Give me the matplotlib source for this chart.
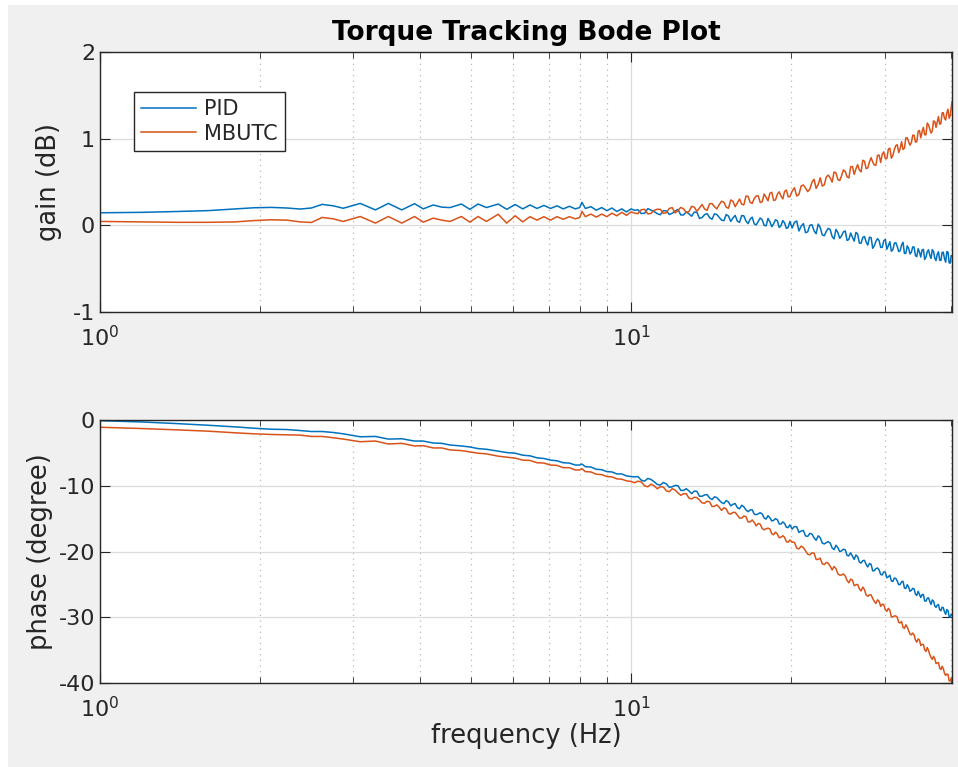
import matplotlib
matplotlib.use('Agg')
import matplotlib.pyplot as plt
import numpy as np
from matplotlib.ticker import LogLocator, NullFormatter
from matplotlib.patches import Rectangle

# ---------------- data ----------------
freq_low = [1.0, 1.2, 1.4, 1.6, 1.8, 1.95, 2.1, 2.25, 2.38, 2.5,
            2.62, 2.75, 2.87, 3.09, 3.30, 3.49, 3.70, 3.91, 4.06, 4.24,
            4.40, 4.56, 4.79, 4.97, 5.15, 5.34, 5.62, 5.83, 6.05, 6.25,
            6.45, 6.65, 6.85, 7.05, 7.25, 7.45, 7.65, 7.85, 8.0, 8.08,
            8.2, 8.4, 8.6, 8.8, 9.0, 9.2, 9.4, 9.6, 9.8, 10.0]
freq_high = [10.3, 10.6, 10.9, 11.2, 11.5, 11.8, 12.1, 12.4, 12.7, 13.0,
             13.3, 13.6, 13.9, 14.2, 14.5, 14.8, 15.1, 15.4, 15.7, 16.0,
             16.3, 16.6, 16.9, 17.2, 17.5, 17.8, 18.1, 18.4, 18.7, 19.0,
             19.3, 19.6, 19.9,
             20.3, 20.7, 21.1, 21.5, 21.9, 22.3, 22.7, 23.1, 23.5, 23.9,
             24.3, 24.7, 25.1, 25.5, 25.9, 26.3, 26.7, 27.1, 27.5, 27.9,
             28.3, 28.7, 29.1, 29.5, 29.9, 30.3, 30.7, 31.1, 31.5, 31.9,
             32.3, 32.7, 33.1, 33.5, 33.9, 34.3, 34.7, 35.1, 35.5, 35.9,
             36.3, 36.7, 37.1, 37.5, 37.9, 38.3, 38.7, 39.1, 39.5, 39.9,
             40.2]
freq_mid = [10.15, 10.45, 10.75, 11.05, 11.35, 11.65, 11.95, 12.25, 12.55, 12.85,
            13.15, 13.45, 13.75, 14.05, 14.35, 14.65, 14.95, 15.25, 15.55, 15.85,
            16.15, 16.45, 16.75, 17.05, 17.35, 17.65, 17.95, 18.25, 18.55, 18.85,
            19.15, 19.45, 19.75,
            20.1, 20.5, 20.9, 21.3, 21.7, 22.1, 22.5, 22.9, 23.3, 23.7,
            24.1, 24.5, 24.9, 25.3, 25.7, 26.1, 26.5, 26.9, 27.3, 27.7,
            28.1, 28.5, 28.9, 29.3, 29.7, 30.1, 30.5, 30.9, 31.3, 31.7,
            32.1, 32.5, 32.9, 33.3, 33.7, 34.1, 34.5, 34.9, 35.3, 35.7,
            36.1, 36.5, 36.9, 37.3, 37.7, 38.1, 38.5, 38.9, 39.3, 39.7,
            40.05]

gain_pid_low = [0.145, 0.15, 0.16, 0.17, 0.19, 0.203, 0.207, 0.2, 0.188, 0.2,
                0.242, 0.225, 0.197, 0.253, 0.178, 0.253, 0.178, 0.25, 0.19, 0.235,
                0.21, 0.205, 0.246, 0.185, 0.246, 0.205, 0.246, 0.185, 0.24, 0.19,
                0.235, 0.195, 0.23, 0.195, 0.225, 0.19, 0.22, 0.19, 0.205, 0.265,
                0.195, 0.215, 0.175, 0.205, 0.17, 0.2, 0.16, 0.19, 0.155, 0.19]
gain_pid_high = [0.18, 0.14, 0.175, 0.135, 0.17, 0.125, 0.165, 0.12, 0.155, 0.105,
                 0.15, 0.09, 0.135, 0.07, 0.125, 0.06, 0.125, 0.045, 0.115, 0.035,
                 0.11, 0.02, 0.095, 0.005, 0.085, 0.0, 0.08, -0.015, 0.065, -0.025,
                 0.055, -0.035, 0.045,
                 0.035, -0.065, 0.02, -0.075, 0.007, -0.097, -0.025, -0.12, -0.035, -0.128,
                 -0.047, -0.15, -0.075, -0.174, -0.088, -0.182, -0.10, -0.205, -0.129, -0.228,
                 -0.141, -0.235, -0.153, -0.255, -0.178, -0.276, -0.189, -0.282, -0.20, -0.303,
                 -0.226, -0.324, -0.237, -0.33, -0.248, -0.349, -0.27, -0.366, -0.277, -0.367,
                 -0.282, -0.382, -0.302, -0.406, -0.305, -0.405, -0.31, -0.425, -0.31, -0.435,
                 -0.35]
gain_pid_mid = [0.173, 0.136, 0.193, 0.158, 0.122, 0.167, 0.14, 0.184, 0.12, 0.133,
                0.154, 0.08, 0.124, 0.09, 0.133, 0.092, 0.054, 0.107, 0.086, 0.047,
                0.113, 0.05, 0.071, 0.017, 0.045, 0.064, -0.006, 0.041, 0.019, 0.052,
                -0.004, 0.028, -0.025,
                -0.03, 0.05, -0.01, -0.085, 0.001, -0.063, 0.014, -0.11, -0.07, -0.049,
                -0.157, -0.081, -0.12, -0.065, -0.163, -0.137, -0.081, -0.205, -0.139, -0.193,
                -0.137, -0.265, -0.184, -0.176, -0.254, -0.162, -0.235, -0.298, -0.206, -0.244,
                -0.292, -0.195, -0.323, -0.266, -0.309, -0.251, -0.362, -0.308, -0.284, -0.394,
                -0.305, -0.345, -0.28, -0.379, -0.333, -0.403, -0.313, -0.383, -0.303, -0.433,
                -0.348]

gain_mbutc_low = [0.045, 0.04, 0.035, 0.035, 0.04, 0.055, 0.064, 0.06, 0.04, 0.033,
                  0.091, 0.075, 0.045, 0.102, 0.026, 0.102, 0.026, 0.102, 0.037, 0.083,
                  0.06, 0.045, 0.102, 0.037, 0.102, 0.045, 0.128, 0.026, 0.11, 0.04,
                  0.1, 0.06, 0.1, 0.06, 0.1, 0.07, 0.1, 0.075, 0.09, 0.16,
                  0.1, 0.13, 0.095, 0.13, 0.1, 0.14, 0.11, 0.15, 0.115, 0.155]
gain_mbutc_high = [0.135, 0.185, 0.138, 0.186, 0.138, 0.195, 0.143, 0.207, 0.148, 0.22,
                   0.162, 0.24, 0.173, 0.252, 0.19, 0.278, 0.21, 0.293, 0.215, 0.303,
                   0.236, 0.335, 0.253, 0.34, 0.263, 0.361, 0.283, 0.381, 0.294, 0.387,
                   0.305, 0.408, 0.33,
                   0.434, 0.357, 0.465, 0.389, 0.497, 0.426, 0.549, 0.467, 0.58, 0.498,
                   0.607, 0.516, 0.64, 0.56, 0.675, 0.588, 0.70, 0.617, 0.74, 0.663,
                   0.781, 0.695, 0.808, 0.725, 0.848, 0.77, 0.89, 0.805, 0.92, 0.84,
                   0.965, 0.89, 1.01, 0.925, 1.04, 0.96, 1.085, 1.01, 1.13, 1.045,
                   1.16, 1.065, 1.205, 1.13, 1.255, 1.175, 1.30, 1.215, 1.34, 1.27,
                   1.43]
gain_mbutc_mid = [0.141, 0.18, 0.132, 0.173, 0.185, 0.147, 0.204, 0.17, 0.19, 0.159,
                  0.209, 0.201, 0.189, 0.248, 0.216, 0.239, 0.267, 0.197, 0.277, 0.26,
                  0.244, 0.337, 0.265, 0.309, 0.34, 0.272, 0.324, 0.371, 0.287, 0.359,
                  0.339, 0.391, 0.331,
                  0.395, 0.338, 0.456, 0.43, 0.418, 0.532, 0.47, 0.453, 0.556, 0.549,
                  0.615, 0.529, 0.573, 0.622, 0.547, 0.679, 0.651, 0.638, 0.751, 0.654,
                  0.732, 0.73, 0.694, 0.811, 0.819, 0.771, 0.88, 0.775, 0.875, 0.93,
                  0.885, 0.875, 1.01, 0.965, 0.955, 1.04, 0.965, 1.095, 1.08, 1.045,
                  1.18, 1.11, 1.09, 1.197, 1.195, 1.167, 1.297, 1.235, 1.3, 1.235,
                  1.36]

phase_pid_low = [-0.1, -0.3, -0.55, -0.8, -1.05, -1.25, -1.4, -1.45, -1.6, -1.75,
                 -1.75, -1.9, -2.1, -2.55, -2.5, -2.9, -2.85, -3.2, -3.2, -3.5,
                 -3.55, -3.8, -3.95, -4.1, -4.35, -4.45, -4.75, -4.95, -5.05, -5.35,
                 -5.45, -5.75, -5.85, -6.1, -6.2, -6.5, -6.55, -6.85, -6.85, -6.7,
                 -7.1, -7.15, -7.5, -7.55, -7.85, -7.9, -8.2, -8.2, -8.5, -8.6]
phase_pid_high = [-8.6, -9.3, -9.05, -9.8, -9.5, -10.25, -9.95, -10.7, -10.45, -11.2,
                  -10.85, -11.6, -11.35, -12.1, -11.8, -12.55, -12.25, -13.05, -12.7, -13.5,
                  -13.2, -13.95, -13.65, -14.4, -14.1, -14.9, -14.55, -15.35, -15.0, -15.8,
                  -15.5, -16.3, -15.95,
                  -16.2, -17.1, -16.8, -17.7, -17.35, -18.3, -17.9, -18.85, -18.5, -19.45,
                  -19.05, -20.0, -19.65, -20.6, -20.2, -21.2, -20.8, -21.75, -21.35, -22.35,
                  -21.95, -22.9, -22.5, -23.5, -23.1, -24.0, -23.6, -24.55, -24.1, -25.05,
                  -24.6, -25.55, -25.05, -26.05, -25.6, -26.5, -26.05, -27.0, -26.55, -27.55,
                  -27.05, -28.05, -27.55, -28.5, -28.05, -29.0, -28.55, -29.55, -29.0, -30.0,
                  -29.6]
phase_pid_mid = [-8.65, -9.15, -8.88, -9.39, -9.89, -9.72, -10.15, -9.98, -10.71, -10.79,
                 -10.8, -11.59, -11.39, -11.85, -11.68, -12.2, -12.71, -12.47, -12.82, -13.33,
                 -12.96, -13.67, -13.68, -14.31, -14.26, -14.29, -15.07, -14.88, -15.26, -15.16,
                 -15.82, -15.73, -16.36,
                 -16.58, -16.24, -16.88, -17.63, -17.24, -17.92, -17.61, -18.71, -18.65, -18.72,
                 -19.71, -19.4, -19.9, -19.74, -20.65, -20.69, -20.53, -21.62, -21.39, -21.98,
                 -21.82, -22.95, -22.61, -22.79, -23.56, -23.14, -23.85, -24.48, -24.03, -24.48,
                 -25.01, -24.53, -25.62, -25.41, -25.9, -25.69, -26.68, -26.51, -26.55, -27.52,
                 -27.11, -27.6, -27.36, -28.28, -28.17, -28.87, -28.46, -29.16, -28.82, -29.93,
                 -29.52]

phase_mbutc_low = [-1.1, -1.3, -1.5, -1.7, -1.95, -2.1, -2.2, -2.25, -2.3, -2.5,
                   -2.5, -2.7, -2.9, -3.3, -3.2, -3.65, -3.55, -3.95, -3.9, -4.25,
                   -4.25, -4.55, -4.65, -4.85, -5.05, -5.15, -5.5, -5.65, -5.8, -6.1,
                   -6.15, -6.5, -6.55, -6.85, -6.9, -7.25, -7.25, -7.6, -7.6, -7.4,
                   -7.85, -7.9, -8.25, -8.3, -8.6, -8.65, -8.95, -9.0, -9.25, -9.35]
phase_mbutc_high = [-9.3, -10.0, -9.75, -10.45, -10.2, -10.9, -10.65, -11.45, -11.2, -12.0,
                    -11.8, -12.6, -12.35, -13.15, -12.9, -13.75, -13.5, -14.3, -14.05, -14.9,
                    -14.6, -15.5, -15.2, -16.1, -15.85, -16.7, -16.45, -17.3, -17.05, -17.9,
                    -17.6, -18.5, -18.25,
                    -18.6, -19.6, -19.4, -20.4, -20.2, -21.2, -21.0, -22.0, -21.8, -22.8,
                    -22.6, -23.6, -23.4, -24.4, -24.2, -25.2, -25.0, -26.0, -25.8, -26.8,
                    -26.6, -27.6, -27.35, -28.35, -28.1, -29.1, -28.95, -29.95, -29.8, -30.8,
                    -30.65, -31.7, -31.5, -32.55, -32.4, -33.45, -33.3, -34.3, -34.15, -35.2,
                    -35.05, -36.1, -35.95, -37.05, -36.9, -37.95, -37.8, -38.85, -38.7, -39.7,
                    -39.6]
phase_mbutc_mid = [-9.54, -9.42, -10.16, -10.02, -10.14, -10.77, -10.45, -11.09, -11.22, -11.89,
                   -11.75, -12.18, -12.66, -12.45, -13.13, -13.27, -13.35, -14.22, -14.05, -14.49,
                   -14.93, -14.7, -15.5, -15.58, -15.73, -16.5, -16.53, -16.58, -17.45, -17.35,
                   -17.83, -17.85, -18.58,
                   -18.56, -19.49, -19.19, -19.9, -20.51, -20.25, -21.21, -21.85, -21.66, -22.23,
                   -22.28, -23.38, -23.57, -23.73, -24.76, -24.35, -25.07, -25.68, -25.41, -26.62,
                   -26.6, -27.14, -27.9, -27.57, -28.01, -28.85, -28.64, -29.94, -29.8, -29.99,
                   -30.86, -31.52, -31.15, -32.02, -32.68, -32.68, -33.79, -33.45, -34.12, -34.95,
                   -34.6, -35.68, -36.41, -36.29, -36.94, -37.74, -37.45, -38.5, -38.63, -39.66,
                   -39.27]

series_names = ['PID', 'MBUTC']
series_colors = ['#0072BD', '#D95319']
title_text = 'Torque Tracking Bode Plot'
gain_label = 'gain (dB)'
phase_label = 'phase (degree)'
freq_label = 'frequency (Hz)'
gain_ticks = [-1, 0, 1, 2]
phase_ticks = [-40, -30, -20, -10, 0]

# merge the measurement points in frequency order
freq_all = np.array(freq_low + freq_high + freq_mid)
order = np.argsort(freq_all, kind='stable')
freq = freq_all[order]
gain_pid = np.array(gain_pid_low + gain_pid_high + gain_pid_mid)[order]
gain_mbutc = np.array(gain_mbutc_low + gain_mbutc_high + gain_mbutc_mid)[order]
phase_pid = np.array(phase_pid_low + phase_pid_high + phase_pid_mid)[order]
phase_mbutc = np.array(phase_mbutc_low + phase_mbutc_high + phase_mbutc_mid)[order]

# ---------------- figure ----------------
plt.rcParams['font.family'] = ['DejaVu Sans']
plt.rcParams['axes.unicode_minus'] = False
TXT = '#262626'

fig = plt.figure(figsize=(9.58, 7.67), dpi=100, facecolor='white')
fig.patches.append(Rectangle((8 / 958, 0), 1 - 8 / 958, 1 - 5 / 767,
                             transform=fig.transFigure, facecolor='#f0f0f0',
                             edgecolor='none', zorder=-10))
ax1 = fig.add_axes([0.1044, 0.5932, 0.8894, 0.339])
ax2 = fig.add_axes([0.1044, 0.1095, 0.8894, 0.3429])


def style(ax, ylim, yticks):
    ax.set_facecolor('white')
    ax.set_xscale('log')
    ax.set_xlim(1, 40.2)
    ax.set_ylim(*ylim)
    ax.set_yticks(yticks)
    ax.xaxis.set_major_locator(LogLocator(base=10, numticks=10))
    ax.xaxis.set_minor_locator(LogLocator(base=10, subs=np.arange(2, 10), numticks=10))
    ax.xaxis.set_minor_formatter(NullFormatter())
    ax.tick_params(which='both', direction='in', top=True, right=True,
                   color=TXT, labelcolor=TXT, labelsize=16)
    ax.tick_params(which='major', length=7, width=0.8)
    ax.tick_params(which='minor', length=4, width=0.6)
    ax.tick_params(axis='x', which='major', pad=9)
    for s in ax.spines.values():
        s.set_color(TXT)
        s.set_linewidth(1.0)
    ax.grid(which='major', color='#dcdcdc', lw=0.9, ls='-')
    ax.grid(which='minor', axis='x', color='#b8b8b8', lw=0.9, ls=(0, (1, 3.5)))
    ax.set_axisbelow(True)


style(ax1, (-1, 2), gain_ticks)
style(ax2, (-40, 0), phase_ticks)

ax1.plot(freq, gain_pid, color=series_colors[0], lw=1.1, label=series_names[0])
ax1.plot(freq, gain_mbutc, color=series_colors[1], lw=1.1, label=series_names[1])
ax2.plot(freq, phase_pid, color=series_colors[0], lw=1.1)
ax2.plot(freq, phase_mbutc, color=series_colors[1], lw=1.1)

ax1.set_ylabel(gain_label, fontsize=18.5, color=TXT, labelpad=8)
ax2.set_ylabel(phase_label, fontsize=18.5, color=TXT)
ax2.set_xlabel(freq_label, fontsize=18.5, color=TXT, labelpad=2)
ax1.set_title(title_text, fontsize=19, fontweight='bold', color='black', pad=9)

leg = ax1.legend(loc='upper left', bbox_to_anchor=(0.04, 0.846), borderaxespad=0,
                 fontsize=15, frameon=True, fancybox=False, handlelength=2.6,
                 handletextpad=0.4, borderpad=0.35, labelspacing=0.2)
leg.get_frame().set_edgecolor(TXT)
leg.get_frame().set_linewidth(1.0)
leg.get_frame().set_facecolor('white')
leg.get_frame().set_alpha(1)
for t in leg.get_texts():
    t.set_color(TXT)

fig.savefig('out.png', dpi=100, facecolor=fig.get_facecolor())
